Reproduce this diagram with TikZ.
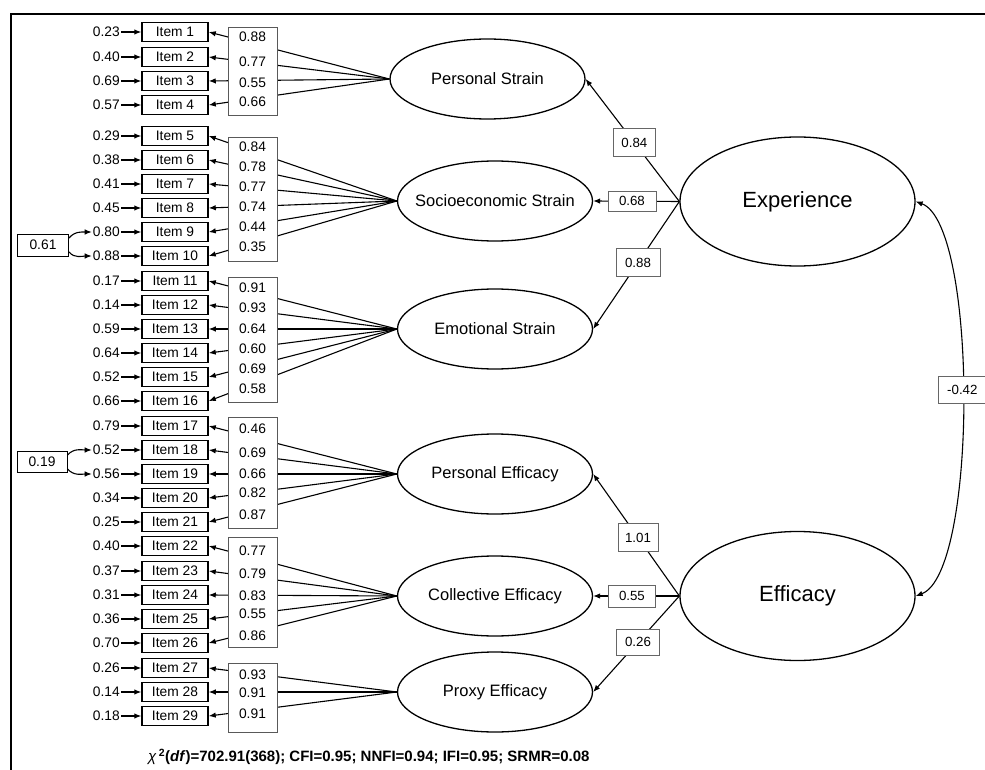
\documentclass[tikz,border=0pt]{standalone}
\usepackage{fontspec}
\setmainfont{Liberation Sans}
\usetikzlibrary{arrows.meta,shapes.geometric}
\begin{document}
\begin{tikzpicture}[x=1pt,y=-1pt,
  arr/.style={-{Latex[length=7pt,width=5.5pt]}, line width=1.1pt},
  itembox/.style={draw, line width=1.5pt, minimum width=66pt, minimum height=19pt, inner sep=0pt, font=\fontsize{13.8}{15}\selectfont},
  errv/.style={anchor=east, inner sep=1pt, font=\fontsize{13.8}{15}\selectfont},
  loadbox/.style={draw=black!65, line width=0.9pt, fill=white, minimum width=49pt, inner sep=0pt},
  loadv/.style={inner sep=0pt, font=\fontsize{13.8}{15}\selectfont},
  lat/.style={draw, ellipse, line width=1.3pt, minimum width=195pt, minimum height=80pt, inner sep=0pt},
  biglat/.style={draw, ellipse, line width=1.3pt, minimum width=235pt, minimum height=129pt, inner sep=0pt},
  latlab/.style={font=\fontsize{16.5}{18}\selectfont},
  biglab/.style={font=\fontsize{22}{24}\selectfont},
  pbox/.style={draw=black!60, line width=0.8pt, fill=white, inner sep=0pt, font=\fontsize{13.3}{15}\selectfont},
  cbox/.style={draw, line width=0.9pt, fill=white, minimum width=51pt, minimum height=22pt, inner sep=0pt, font=\fontsize{13.8}{15}\selectfont},
]
\useasboundingbox (0,0) rectangle (985,770);
\draw[line width=1.4pt] (985,14) -- (11,14) -- (11,770);

% items and error terms
\foreach \n/\y/\e in {1/32/0.23, 2/57/0.40, 3/81/0.69, 4/105/0.57,
  5/136/0.29, 6/160/0.38, 7/184/0.41, 8/208/0.45, 9/232/0.80, 10/256/0.88,
  11/281/0.17, 12/305/0.14, 13/329/0.59, 14/353/0.64, 15/377/0.52, 16/401/0.66,
  17/426/0.79, 18/450/0.52, 19/474/0.56, 20/498/0.34, 21/522/0.25,
  22/546/0.40, 23/571/0.37, 24/595/0.31, 25/619/0.36, 26/643/0.70,
  27/668/0.26, 28/692/0.14, 29/716/0.18} {
  \node[itembox] (i\n) at (175,\y) {Item \n};
  \node[errv] (e\n) at (121,\y) {\e};
  \draw[arr] (e\n.east) -- (i\n.west);
}

% first-order latents
\node[lat, label={[latlab]center:Personal Strain}] (ps) at (487.5,79) {};
\node[lat, label={[latlab]center:Socioeconomic Strain}] (ss) at (495,201) {};
\node[lat, label={[latlab]center:Emotional Strain}] (es) at (495,329) {};
\node[lat, label={[latlab]center:Personal Efficacy}] (pe) at (495,474) {};
\node[lat, label={[latlab]center:Collective Efficacy}] (ce) at (495,596) {};
\node[lat, label={[latlab]center:Proxy Efficacy}] (xe) at (495,692) {};

% second-order latents
\node[biglat, label={[biglab]center:Experience}] (exp) at (797.5,201.5) {};
\node[biglat, label={[biglab]center:Efficacy}] (eff) at (797.5,596) {};

% loadings
\foreach \n in {1,...,4} \draw[arr] (ps.west) -- (i\n.east);
\foreach \n in {5,...,10} \draw[arr] (ss.west) -- (i\n.east);
\foreach \n in {11,...,16} \draw[arr] (es.west) -- (i\n.east);
\foreach \n in {17,...,21} \draw[arr] (pe.west) -- (i\n.east);
\foreach \n in {22,...,26} \draw[arr] (ce.west) -- (i\n.east);
\foreach \n in {27,28,29} \draw[arr] (xe.west) -- (i\n.east);

% loading value boxes
\node[loadbox, minimum height=88pt] (lb1) at (252.5,71) {};
\node[loadbox, minimum height=124pt] (lb2) at (252.5,199) {};
\node[loadbox, minimum height=125pt] (lb3) at (252.5,339.5) {};
\node[loadbox, minimum height=111pt] (lb4) at (252.5,472.5) {};
\node[loadbox, minimum height=110pt] (lb5) at (252.5,592) {};
\node[loadbox, minimum height=69pt] (lb6) at (252.5,697.5) {};
\foreach \k/\y/\v in {a/37/0.88, b/62/0.77, c/83/0.55, d/102/0.66,
  e/147/0.84, f/167/0.78, g/187/0.77, h/207/0.74, i/227/0.44, j/247/0.35,
  k/288/0.91, l/308/0.93, m/329/0.64, n/349/0.60, o/369/0.69, p/389/0.58,
  q/429/0.46, r/453/0.69, s/474/0.66, t/493/0.82, u/515/0.87,
  v/551/0.77, w/574/0.79, x/596/0.83, y/614/0.55, z/636/0.86,
  aa/675/0.93, ab/693/0.91, ac/714/0.91} {
  \node[loadv] (v\k) at (252.5,\y) {\v};
}

% second-order paths
\draw[arr] (exp.west) -- node[pbox, minimum width=42pt, minimum height=28pt, pos=0.48] (l1) {0.84} (ps.east);
\draw[arr] (exp.west) -- node[pbox, minimum width=48pt, minimum height=20pt, pos=0.55] (l2) {0.68} (ss.east);
\draw[arr] (exp.west) -- node[pbox, minimum width=44pt, minimum height=28pt, pos=0.48] (l3) {0.88} (es.east);
\draw[arr] (eff.west) -- node[pbox, minimum width=40pt, minimum height=28pt, pos=0.48] (l4) {1.01} (pe.east);
\draw[arr] (eff.west) -- node[pbox, minimum width=47pt, minimum height=22pt, pos=0.55] (l5) {0.55} (ce.east);
\draw[arr] (eff.west) -- node[pbox, minimum width=43pt, minimum height=26pt, pos=0.48] (l6) {0.26} (xe.east);

% covariance
\draw[{Latex[length=7pt,width=5.5pt]}-{Latex[length=7pt,width=5.5pt]}, line width=1.1pt]
  (exp.east) .. controls (978,224) and (978,573) .. node[pbox, minimum width=47pt, minimum height=27pt, pos=0.485] (l7) {-0.42} (eff.east);

% correlated errors
\node[cbox] (c1) at (43,245) {0.61};
\draw[arr] (c1.15) to[out=50,in=180] (e9.west);
\draw[arr] (c1.-15) to[out=-50,in=180] (e10.west);
\node[cbox, minimum width=50pt, minimum height=21pt] (c2) at (42,462) {0.19};
\draw[arr] (c2.15) to[out=50,in=180] (e18.west);
\draw[arr] (c2.-15) to[out=-50,in=180] (e19.west);

% fit indices
\node[anchor=west, inner sep=0pt, font=\bfseries\fontsize{15}{17}\selectfont] (fit) at (148,757)
  {{\mdseries\itshape χ}\,\textsuperscript{2}(\textit{df})=702.91(368); CFI=0.95; NNFI=0.94; IFI=0.95; SRMR=0.08};
\end{tikzpicture}
\end{document}
